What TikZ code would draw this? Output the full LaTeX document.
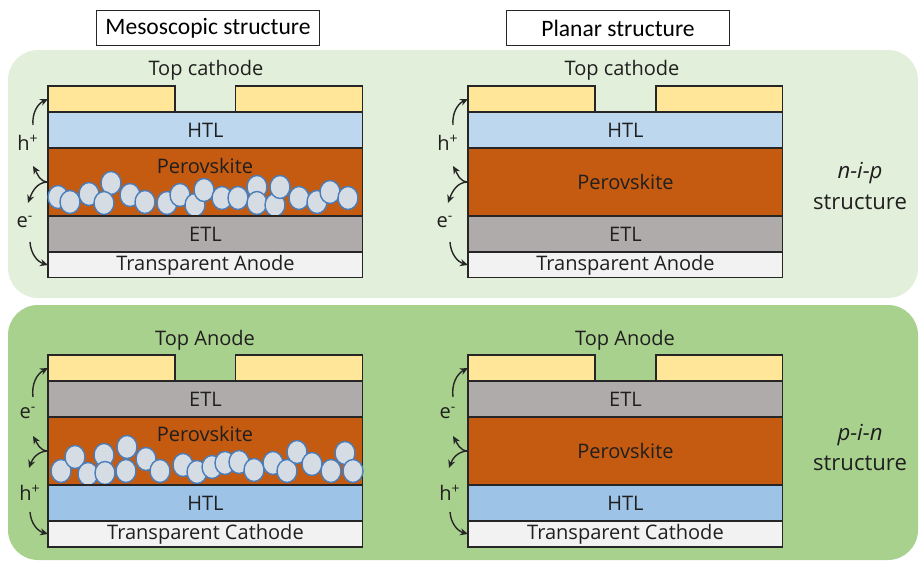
\documentclass[tikz,border=0pt]{standalone}
\usepackage{fontspec}
\setmainfont{Open Sans}
\newfontfamily\titlefont{Carlito}
\usepackage{xcolor}
\usepackage{tikz}
\usetikzlibrary{arrows.meta}
\usetikzlibrary{positioning}

\definecolor{panelclaro}{HTML}{E2EFDA}
\definecolor{panelverde}{HTML}{A9D18E}
\definecolor{amarillo}{HTML}{FFE699}
\definecolor{htlclaro}{HTML}{BDD7EE}
\definecolor{htloscuro}{HTML}{9DC3E6}
\definecolor{perovskita}{HTML}{C55A11}
\definecolor{etlgris}{HTML}{AFABAB}
\definecolor{transparente}{HTML}{F2F2F2}
\definecolor{esfera}{HTML}{D6DCE4}
\definecolor{bordeesfera}{HTML}{4A7EBB}
\definecolor{texto}{HTML}{1F1F1F}

\tikzset{
  capa/.style={draw=black!85, line width=0.6pt, minimum width=6.3cm, inner sep=0pt, outer sep=0pt, text=texto, font=\fontsize{11.4}{13}\selectfont},
  electrodo/.style={capa, fill=amarillo, minimum width=2.54cm, minimum height=0.52cm},
  htl/.style={capa, minimum height=0.72cm},
  etl/.style={capa, fill=etlgris, minimum height=0.72cm},
  pvk/.style={capa, fill=perovskita, minimum height=1.36cm},
  contacto/.style={capa, fill=transparente, minimum height=0.52cm},
  esferas/.style={fill=esfera, draw=bordeesfera, line width=0.8pt},
  flecha/.style={-{Stealth[length=4.5pt,width=4pt]}, line width=0.8pt, black!85},
  rotulo/.style={text=texto, font=\fontsize{11.4}{13}\selectfont},
  lado/.style={text=texto, font=\fontsize{12.6}{15}\selectfont},
  titulo/.style={draw=black!85, line width=0.7pt, fill=white, minimum width=4.46cm, minimum height=0.7cm, font=\titlefont\fontsize{13.4}{15}\selectfont},
}

\begin{document}
\begin{tikzpicture}[x=0.02cm, y=-0.02cm]
        \useasboundingbox (0,0) rectangle (922,564);

        % Paneles de fondo
        \fill[panelclaro, rounded corners=0.6cm] (8,50) rectangle (918,298);
        \fill[panelverde, rounded corners=0.6cm] (8,305) rectangle (918,560);

        % Titulos
        \node[titulo] (meso) at (208,28) {Mesoscopic structure};
        \node[titulo] (plana) at (618,28) {Planar structure};

        % n-i-p mesoscopica
        \node[htl, fill=htlclaro, anchor=north west] (htlA) at (48,112) {HTL};
        \node[electrodo, above right=0pt and 0pt of htlA.north west] (catA1) {};
        \node[electrodo, above left=0pt and 0pt of htlA.north east] (catA2) {};
        \node[pvk, below=0pt of htlA] (pvkA) {};
        \foreach \x/\y in {58/197, 70/202, 89/194, 111/183, 104/203, 130/195, 145/202,
                           167/203, 180/195, 195/205, 204/190, 222/198, 238/198, 257/187,
                           257/203, 275/205, 280/187, 299/198, 317/202, 330/192, 348/198}
            \draw[esferas] (\x,\y) ellipse [x radius=10, y radius=11.5];
        \node[etl, below=0pt of pvkA] (etlA) {ETL};
        \node[contacto, below=0pt of etlA] (anoA) {Transparent Anode};
        \node[rotulo] (pvkAt) at (205,166) {Perovskite};
        \node[rotulo] (catAt) at (206,70) {Top cathode};

        \coordinate (hA) at (33,125);
        \coordinate (subeA) at (33,166);
        \coordinate (bajaA) at (28,203);
        \coordinate (eA) at (30,242);
        \draw[flecha] (hA) to[bend left=35] (catA1.west);
        \draw[flecha] (pvkA.west) to[out=180, in=-60] (subeA);
        \draw[flecha] (pvkA.west) to[out=180, in=70] (bajaA);
        \draw[flecha] (eA) to[bend right=35] (anoA.west);
        \node[rotulo] (hAt) at (28,143) {h\textsuperscript{+}};
        \node[rotulo] (eAt) at (25,222) {e\textsuperscript{-}};

        % n-i-p plana
        \node[htl, fill=htlclaro, anchor=north west] (htlB) at (468,112) {HTL};
        \node[electrodo, above right=0pt and 0pt of htlB.north west] (catB1) {};
        \node[electrodo, above left=0pt and 0pt of htlB.north east] (catB2) {};
        \node[pvk, below=0pt of htlB] (pvkB) {Perovskite};
        \node[etl, below=0pt of pvkB] (etlB) {ETL};
        \node[contacto, below=0pt of etlB] (anoB) {Transparent Anode};
        \node[rotulo] (catBt) at (622,70) {Top cathode};

        \coordinate (hB) at (453,125);
        \coordinate (subeB) at (453,166);
        \coordinate (bajaB) at (448,203);
        \coordinate (eB) at (450,242);
        \draw[flecha] (hB) to[bend left=35] (catB1.west);
        \draw[flecha] (pvkB.west) to[out=180, in=-60] (subeB);
        \draw[flecha] (pvkB.west) to[out=180, in=70] (bajaB);
        \draw[flecha] (eB) to[bend right=35] (anoB.west);
        \node[rotulo] (hBt) at (448,143) {h\textsuperscript{+}};
        \node[rotulo] (eBt) at (445,222) {e\textsuperscript{-}};

        \node[lado] (nip) at (860,173) {\textit{n-i-p}};
        \node[lado] (nipB) at (860,202) {structure};

        % p-i-n mesoscopica
        \node[etl, anchor=north west] (etlC) at (48,381) {ETL};
        \node[electrodo, above right=0pt and 0pt of etlC.north west] (anC1) {};
        \node[electrodo, above left=0pt and 0pt of etlC.north east] (anC2) {};
        \node[pvk, below=0pt of etlC] (pvkC) {};
        \foreach \x/\y in {61/471, 75/457, 88/474, 104/455, 105/473, 127/447, 126/471, 146/459,
                           160/471, 183/465, 197/472, 212/467, 225/463, 239/462, 254/470,
                           273/463, 287/471, 297/452, 312/464, 331/471, 345/453, 353/471}
            \draw[esferas] (\x,\y) ellipse [x radius=10, y radius=11.5];
        \node[htl, fill=htloscuro, below=0pt of pvkC] (htlC) {HTL};
        \node[contacto, below=0pt of htlC] (catC) {Transparent Cathode};
        \node[rotulo] (pvkCt) at (205,434) {Perovskite};
        \node[rotulo] (anCt) at (205,340) {Top Anode};

        \coordinate (eC) at (33,397);
        \coordinate (subeC) at (33,436);
        \coordinate (bajaC) at (29,468);
        \coordinate (hC) at (30,512);
        \draw[flecha] (eC) to[bend left=35] (anC1.west);
        \draw[flecha] (pvkC.west) to[out=180, in=-60] (subeC);
        \draw[flecha] (pvkC.west) to[out=180, in=70] (bajaC);
        \draw[flecha] (hC) to[bend right=35] (catC.west);
        \node[rotulo] (eCt) at (28,413) {e\textsuperscript{-}};
        \node[rotulo] (hCt) at (30,493) {h\textsuperscript{+}};

        % p-i-n plana
        \node[etl, anchor=north west] (etlD) at (468,381) {ETL};
        \node[electrodo, above right=0pt and 0pt of etlD.north west] (anD1) {};
        \node[electrodo, above left=0pt and 0pt of etlD.north east] (anD2) {};
        \node[pvk, below=0pt of etlD] (pvkD) {Perovskite};
        \node[htl, fill=htloscuro, below=0pt of pvkD] (htlD) {HTL};
        \node[contacto, below=0pt of htlD] (catD) {Transparent Cathode};
        \node[rotulo] (anDt) at (625,340) {Top Anode};

        \coordinate (eD) at (453,397);
        \coordinate (subeD) at (453,436);
        \coordinate (bajaD) at (449,468);
        \coordinate (hD) at (450,512);
        \draw[flecha] (eD) to[bend left=35] (anD1.west);
        \draw[flecha] (pvkD.west) to[out=180, in=-60] (subeD);
        \draw[flecha] (pvkD.west) to[out=180, in=70] (bajaD);
        \draw[flecha] (hD) to[bend right=35] (catD.west);
        \node[rotulo] (eDt) at (448,413) {e\textsuperscript{-}};
        \node[rotulo] (hDt) at (450,493) {h\textsuperscript{+}};

        \node[lado] (pin) at (860,435) {\textit{p-i-n}};
        \node[lado] (pinB) at (860,463) {structure};
    \end{tikzpicture}
\end{document}
